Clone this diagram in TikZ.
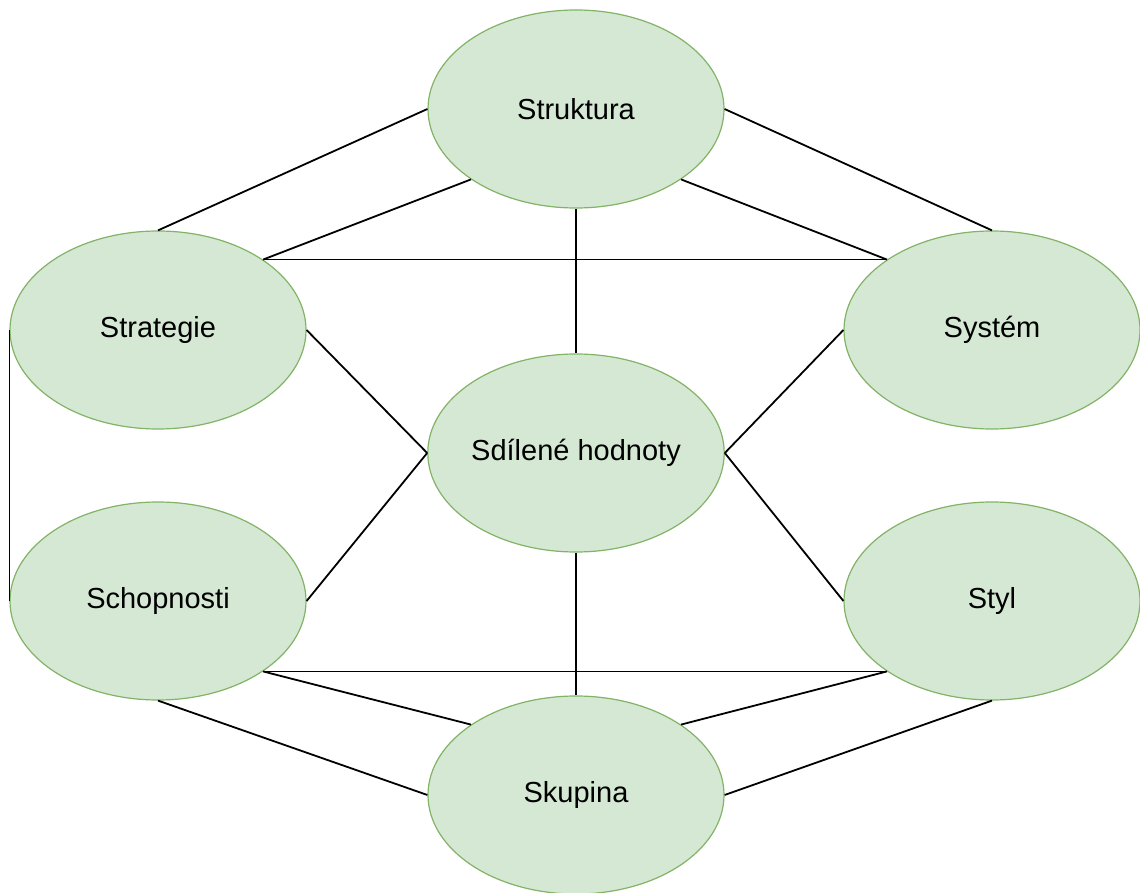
\documentclass[tikz,border=0pt]{standalone}
\usepackage{fontspec}
\setmainfont{Liberation Sans}
\usepackage{xcolor}
\usetikzlibrary{shapes.geometric}
\definecolor{leafFill}{HTML}{D5E8D4}
\definecolor{leafLine}{HTML}{82B366}

\begin{document}
\begin{tikzpicture}[x=0.5pt, y=-0.5pt,
  sev/.style={ellipse, draw=leafLine, fill=leafFill, line width=0.6pt,
    minimum width=148pt, minimum height=99pt, inner sep=0pt,
    font=\fontsize{14.5}{17}\selectfont},
  link/.style={black, line width=0.9pt}]
\useasboundingbox (0,0) rectangle (1140,893);
\node[sev] (Str) at (576,109) {Struktura};
\node[sev] (Stg) at (158,330) {Strategie};
\node[sev] (Sys) at (992,330) {Systém};
\node[sev] (Sdh) at (576,453) {Sdílené hodnoty};
\node[sev] (Sch) at (158,601) {Schopnosti};
\node[sev] (Sty) at (992,601) {Styl};
\node[sev] (Sku) at (576,795) {Skupina};
% upper links
\draw[link] (Str.west) -- (Stg.north);
\draw[link] (Str.south west) -- (Stg.north east);
\draw[link] (Str.east) -- (Sys.north);
\draw[link] (Str.south east) -- (Sys.north west);
\draw[link] (Stg.north east) -- (Sys.north west);
\draw[link] (Str.south) -- (Sdh.north);
% middle links
\draw[link] (Stg.east) -- (Sdh.west);
\draw[link] (Sch.east) -- (Sdh.west);
\draw[link] (Sys.west) -- (Sdh.east);
\draw[link] (Sty.west) -- (Sdh.east);
\draw[link] (Stg.west) -- (Sch.west);
\draw[link] (Sys.east) -- (Sty.east);
% lower links
\draw[link] (Sdh.south) -- (Sku.north);
\draw[link] (Sch.south east) -- (Sty.south west);
\draw[link] (Sch.south east) -- (Sku.north west);
\draw[link] (Sch.south) -- (Sku.west);
\draw[link] (Sty.south west) -- (Sku.north east);
\draw[link] (Sty.south) -- (Sku.east);
\end{tikzpicture}
\end{document}
